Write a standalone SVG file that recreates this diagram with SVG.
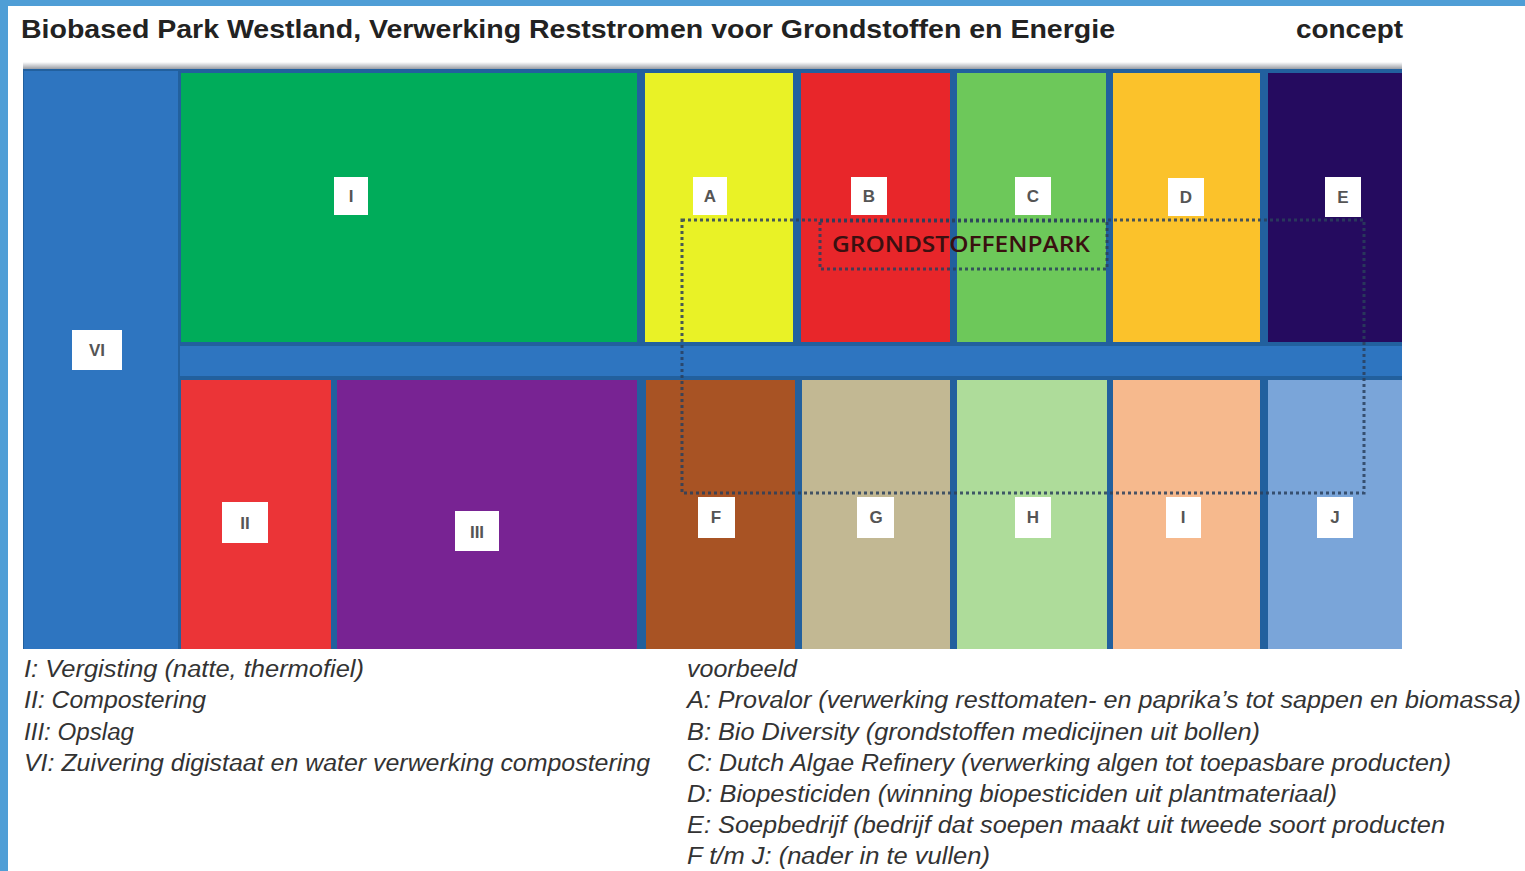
<svg xmlns="http://www.w3.org/2000/svg" width="1525" height="871" viewBox="0 0 1525 871">
<style>
.title{font-family:"Liberation Sans",Arial,sans-serif;font-weight:bold;font-size:25px;fill:#222}
.lbl{fill:#fff}
.lt{font-family:"Liberation Sans",Arial,sans-serif;font-weight:bold;font-size:17px;fill:#555;text-anchor:middle}
.leg{font-family:"Liberation Sans",Arial,sans-serif;font-style:italic;font-size:23px;fill:#333}
.dot{fill:none;stroke:#2A3F5C;stroke-width:3;stroke-dasharray:3 3;opacity:0.85}
.sep{fill:#22609E}
</style>
<defs>
<linearGradient id="shadow" x1="0" y1="0" x2="0" y2="1">
<stop offset="0" stop-color="#fff"/><stop offset="1" stop-color="#8a8f98"/>
</linearGradient>
</defs>
<rect x="0" y="0" width="1525" height="871" fill="#fff"/>
<rect x="0" y="0" width="1525" height="6" fill="#4F9ED6"/>
<rect x="0" y="0" width="8" height="871" fill="#4F9ED6"/>
<text class="title" x="21" y="38" textLength="1094" lengthAdjust="spacingAndGlyphs">Biobased Park Westland, Verwerking Reststromen voor Grondstoffen en Energie</text>
<text class="title" x="1296" y="38" textLength="107" lengthAdjust="spacingAndGlyphs">concept</text>
<rect x="23" y="62" width="1379" height="8" fill="url(#shadow)"/>
<rect class="sep" x="23" y="69" width="1379" height="580"/>
<g id="VI"><rect x="24" y="71" width="154" height="578" fill="#2E75C0"/><rect class="lbl" x="72" y="330" width="50" height="40"/><text class="lt" x="97" y="356">VI</text></g>
<g id="road"><rect x="180" y="346" width="1222" height="30" fill="#2E75C0"/></g>
<g id="I"><rect x="181" y="73" width="456" height="269" fill="#00AC5A"/><rect class="lbl" x="334" y="177" width="34" height="38"/><text class="lt" x="351" y="202">I</text></g>
<g id="A"><rect x="645" y="73" width="148" height="269" fill="#E9F226"/><rect class="lbl" x="693" y="177" width="34" height="38"/><text class="lt" x="710" y="202">A</text></g>
<g id="B"><rect x="801" y="73" width="149" height="269" fill="#E8262A"/><rect class="lbl" x="851" y="177" width="36" height="38"/><text class="lt" x="869" y="202">B</text></g>
<g id="C"><rect x="957" y="73" width="149" height="269" fill="#6DC85A"/><rect class="lbl" x="1015" y="177" width="36" height="38"/><text class="lt" x="1033" y="202">C</text></g>
<g id="D"><rect x="1113" y="73" width="147" height="269" fill="#FBC22B"/><rect class="lbl" x="1168" y="178" width="36" height="38"/><text class="lt" x="1186" y="203">D</text></g>
<g id="E"><rect x="1268" y="73" width="134" height="269" fill="#250B5F"/><rect class="lbl" x="1325" y="177" width="36" height="40"/><text class="lt" x="1343" y="203">E</text></g>
<g id="II"><rect x="181" y="380" width="150" height="269" fill="#EB3437"/><rect class="lbl" x="222" y="502" width="46" height="41"/><text class="lt" x="245" y="529">II</text></g>
<g id="III"><rect x="337" y="380" width="300" height="269" fill="#782393"/><rect class="lbl" x="455" y="511" width="44" height="40"/><text class="lt" x="477" y="538">III</text></g>
<g id="F"><rect x="646" y="380" width="149" height="269" fill="#A85324"/><rect class="lbl" x="698" y="497" width="37" height="41"/><text class="lt" x="716" y="523">F</text></g>
<g id="G"><rect x="802" y="380" width="148" height="269" fill="#C2B893"/><rect class="lbl" x="857" y="497" width="37" height="41"/><text class="lt" x="876" y="523">G</text></g>
<g id="H"><rect x="957" y="380" width="150" height="269" fill="#AEDC9A"/><rect class="lbl" x="1015" y="497" width="36" height="41"/><text class="lt" x="1033" y="523">H</text></g>
<g id="Ib"><rect x="1113" y="380" width="147" height="269" fill="#F6B98D"/><rect class="lbl" x="1166" y="497" width="35" height="41"/><text class="lt" x="1183" y="523">I</text></g>
<g id="J"><rect x="1268" y="380" width="134" height="269" fill="#7AA5D9"/><rect class="lbl" x="1317" y="497" width="36" height="41"/><text class="lt" x="1335" y="523">J</text></g>
<g id="grondstoffenpark">
<rect class="dot" x="682" y="220" width="682" height="273"/>
<rect class="dot" x="820" y="221" width="287" height="48" stroke-width="2" opacity="0.5"/>
<text x="832" y="252" font-family="'Open Sans','Liberation Sans',sans-serif" font-weight="600" font-size="22" fill="#3A1010" textLength="258" lengthAdjust="spacingAndGlyphs">GRONDSTOFFENPARK</text>
</g>
<g id="legend">
<text class="leg" x="24" y="677" textLength="340" lengthAdjust="spacingAndGlyphs">I: Vergisting (natte, thermofiel)</text>
<text class="leg" x="24" y="708" textLength="182" lengthAdjust="spacingAndGlyphs">II: Compostering</text>
<text class="leg" x="24" y="740" textLength="110" lengthAdjust="spacingAndGlyphs">III: Opslag</text>
<text class="leg" x="24" y="771" textLength="626" lengthAdjust="spacingAndGlyphs">VI: Zuivering digistaat en water verwerking compostering</text>
<text class="leg" x="687" y="677" textLength="110" lengthAdjust="spacingAndGlyphs">voorbeeld</text>
<text class="leg" x="687" y="708" textLength="834" lengthAdjust="spacingAndGlyphs">A: Provalor (verwerking resttomaten- en paprika’s tot sappen en biomassa)</text>
<text class="leg" x="687" y="740" textLength="573" lengthAdjust="spacingAndGlyphs">B: Bio Diversity (grondstoffen medicijnen uit bollen)</text>
<text class="leg" x="687" y="771" textLength="764" lengthAdjust="spacingAndGlyphs">C: Dutch Algae Refinery (verwerking algen tot toepasbare producten)</text>
<text class="leg" x="687" y="802" textLength="650" lengthAdjust="spacingAndGlyphs">D: Biopesticiden (winning biopesticiden uit plantmateriaal)</text>
<text class="leg" x="687" y="833" textLength="758" lengthAdjust="spacingAndGlyphs">E: Soepbedrijf (bedrijf dat soepen maakt uit tweede soort producten</text>
<text class="leg" x="687" y="864" textLength="303" lengthAdjust="spacingAndGlyphs">F t/m J: (nader in te vullen)</text>
</g>
</svg>
